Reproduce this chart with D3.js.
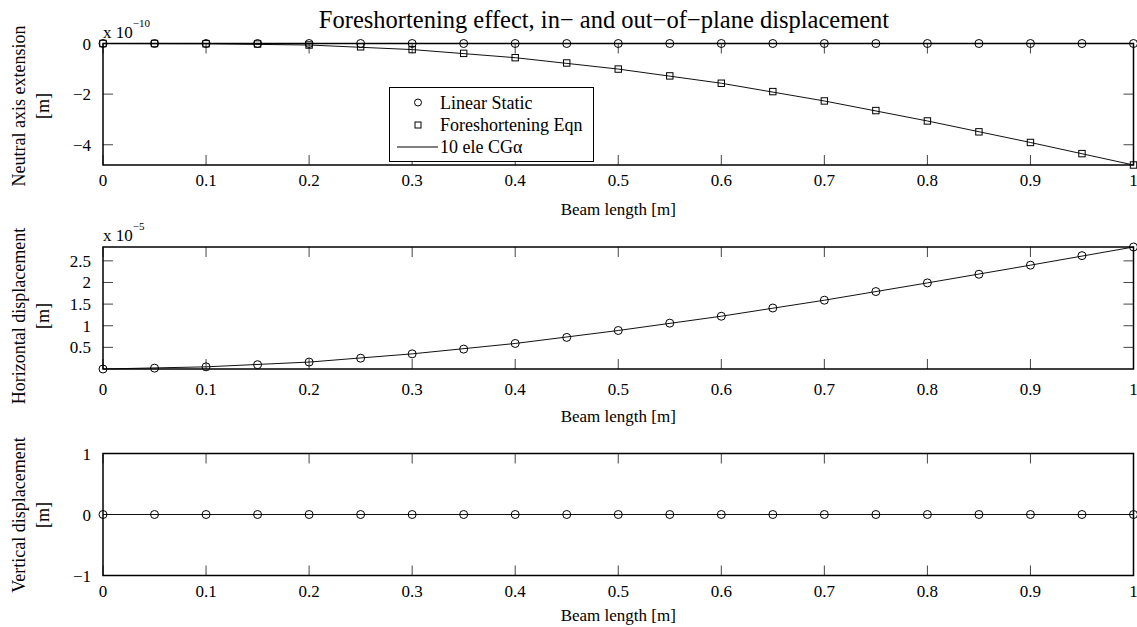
<!DOCTYPE html>
<html>
<head>
<meta charset="utf-8">
<script src="https://cdn.jsdelivr.net/npm/d3@7"></script>
<style>
  body { margin: 0; background: #fff; }
  text { font-family: "Liberation Serif", "Times New Roman", serif; fill: #000; }
</style>
</head>
<body>
<svg id="plot"></svg>
<script>
// marker positions along the beam
var beamX = [0, 0.05, 0.1, 0.15, 0.2, 0.25, 0.3, 0.35, 0.4, 0.45, 0.5,
             0.55, 0.6, 0.65, 0.7, 0.75, 0.8, 0.85, 0.9, 0.95, 1];
// element nodes of the 10 element model
var nodeX = [0, 0.1, 0.2, 0.3, 0.4, 0.5, 0.6, 0.7, 0.8, 0.9, 1];

// neutral axis extension (x 1e-10 m)
var extLinear = [0, 0, 0, 0, 0, 0, 0, 0, 0, 0, 0, 0, 0, 0, 0, 0, 0, 0, 0, 0, 0];
var extForeshort = [0, 0, -0.01, -0.02, -0.06, -0.13, -0.24, -0.39, -0.56, -0.77, -1.01,
                    -1.28, -1.57, -1.9, -2.27, -2.65, -3.06, -3.49, -3.91, -4.35, -4.8];
var extCG = [0, -0.01, -0.06, -0.24, -0.56, -1.01, -1.57, -2.27, -3.06, -3.91, -4.8];

// horizontal displacement (x 1e-5 m)
var horLinear = [0, 0.02, 0.05, 0.1, 0.16, 0.25, 0.35, 0.46, 0.59, 0.73, 0.89,
                 1.06, 1.22, 1.41, 1.59, 1.79, 1.99, 2.19, 2.4, 2.62, 2.82];
var horCG = [0, 0.05, 0.16, 0.35, 0.59, 0.89, 1.22, 1.59, 1.99, 2.4, 2.82];

// vertical displacement (m)
var verLinear = [0, 0, 0, 0, 0, 0, 0, 0, 0, 0, 0, 0, 0, 0, 0, 0, 0, 0, 0, 0, 0];
var verCG = [0, 0, 0, 0, 0, 0, 0, 0, 0, 0, 0];

var xTicks = [0, 0.1, 0.2, 0.3, 0.4, 0.5, 0.6, 0.7, 0.8, 0.9, 1];
var extTicks = [-4, -2, 0];
var horTicks = [0.5, 1, 1.5, 2, 2.5];
var verTicks = [-1, 0, 1];

var titleText = "Foreshortening effect, in\u2212 and out\u2212of\u2212plane displacement";
var legendLabels = ["Linear Static", "Foreshortening Eqn", "10 ele CG\u03b1"];

var W = 1137, H = 627;
var svg = d3.select("#plot").attr("width", W).attr("height", H)
  .attr("font-family", "'Liberation Serif', 'Times New Roman', serif");
svg.append("rect").attr("width", W).attr("height", H).attr("fill", "#fff");

var left = 103, right = 1133.5, tickLen = 10;
var x = d3.scaleLinear().domain([0, 1]).range([left, right]);

svg.append("text")
  .attr("x", 604).attr("y", 28)
  .attr("text-anchor", "middle")
  .style("font-size", "24.5px")
  .text(titleText);

var panels = [
  {top: 43.5, bottom: 165, domain: [-4.8, 0], ticks: extTicks, expo: "\u221210",
   ylab: ["Neutral axis extension", "[m]"], ylabY: 106, tickOff: 21, xlabOff: 50,
   circles: extLinear, squares: extForeshort, line: extCG, fmt: d3.format("d")},
  {top: 247, bottom: 369, domain: [0, 2.82], ticks: horTicks, expo: "\u22125",
   ylab: ["Horizontal displacement", "[m]"], ylabY: 316, tickOff: 26, xlabOff: 53,
   circles: horLinear, squares: null, line: horCG, fmt: function(d) { return String(d); }},
  {top: 453.5, bottom: 575.5, domain: [-1, 1], ticks: verTicks, expo: null,
   ylab: ["Vertical displacement", "[m]"], ylabY: 515, tickOff: 21, xlabOff: 45,
   circles: verLinear, squares: null, line: verCG, fmt: d3.format("d")}
];

panels.forEach(function(p, i) {
  var y = d3.scaleLinear().domain(p.domain).range([p.bottom, p.top]);
  var g = svg.append("g");

  // ticks (inward, mirrored)
  var tk = g.append("g").attr("stroke", "#444").attr("stroke-width", 1);
  xTicks.forEach(function(t) {
    tk.append("line").attr("x1", x(t)).attr("x2", x(t)).attr("y1", p.bottom).attr("y2", p.bottom - tickLen);
    tk.append("line").attr("x1", x(t)).attr("x2", x(t)).attr("y1", p.top).attr("y2", p.top + tickLen);
  });
  p.ticks.forEach(function(t) {
    tk.append("line").attr("x1", left).attr("x2", left + tickLen).attr("y1", y(t)).attr("y2", y(t));
    tk.append("line").attr("x1", right).attr("x2", right - tickLen).attr("y1", y(t)).attr("y2", y(t));
  });

  // tick labels
  g.selectAll(".xl").data(xTicks).enter().append("text")
    .attr("x", function(d) { return x(d); })
    .attr("y", p.bottom + p.tickOff)
    .attr("text-anchor", "middle")
    .style("font-size", "17px")
    .text(function(d) { return d3.format("")(d); });
  g.selectAll(".yl").data(p.ticks).enter().append("text")
    .attr("x", left - 12)
    .attr("y", function(d) { return y(d) + 6; })
    .attr("text-anchor", "end")
    .style("font-size", "17px")
    .text(function(d) { return p.fmt(d).replace("-", "\u2212"); });

  // axis labels
  g.append("text")
    .attr("x", (left + right) / 2).attr("y", p.bottom + p.xlabOff)
    .attr("text-anchor", "middle")
    .style("font-size", "17px")
    .text("Beam length [m]");
  p.ylab.forEach(function(s, j) {
    g.append("text")
      .attr("transform", "translate(" + (25 + j * 24) + "," + p.ylabY + ") rotate(-90)")
      .attr("text-anchor", "middle")
      .style("font-size", "18px")
      .text(s);
  });

  if (p.expo) {
    var e = g.append("text").attr("x", left).attr("y", p.top - 6).style("font-size", "17px");
    e.append("tspan").text("x 10");
    e.append("tspan").attr("dy", -11).style("font-size", "11px").text(p.expo);
  }

  // data line
  g.append("path")
    .datum(nodeX.map(function(d, k) { return [d, p.line[k]]; }))
    .attr("fill", "none").attr("stroke", "#111").attr("stroke-width", 1)
    .attr("d", d3.line().x(function(d) { return x(d[0]); }).y(function(d) { return y(d[1]); }));

  // box
  g.append("rect")
    .attr("x", left).attr("y", p.top)
    .attr("width", right - left).attr("height", p.bottom - p.top)
    .attr("fill", "none").attr("stroke", "#000").attr("stroke-width", 1.5);

  // markers
  g.selectAll(".c").data(p.circles).enter().append("circle")
    .attr("cx", function(d, k) { return x(beamX[k]); })
    .attr("cy", function(d) { return y(d); })
    .attr("r", 4)
    .attr("fill", "none").attr("stroke", "#000").attr("stroke-width", 1);
  if (p.squares) {
    g.selectAll(".s").data(p.squares).enter().append("rect")
      .attr("x", function(d, k) { return x(beamX[k]) - 3.2; })
      .attr("y", function(d) { return y(d) - 3.2; })
      .attr("width", 6.4).attr("height", 6.4)
      .attr("fill", "none").attr("stroke", "#000").attr("stroke-width", 1);
  }

  // legend on first panel
  if (i === 0) {
    var lg = svg.append("g");
    lg.append("rect").attr("x", 389.5).attr("y", 87.5).attr("width", 204).attr("height", 74)
      .attr("fill", "#fff").attr("stroke", "#000").attr("stroke-width", 1);
    var rows = [102.5, 125, 147];
    lg.append("circle").attr("cx", 418).attr("cy", rows[0]).attr("r", 3.5)
      .attr("fill", "none").attr("stroke", "#000");
    lg.append("rect").attr("x", 415).attr("y", rows[1] - 3).attr("width", 6).attr("height", 6)
      .attr("fill", "none").attr("stroke", "#000");
    lg.append("line").attr("x1", 397).attr("x2", 438).attr("y1", rows[2]).attr("y2", rows[2])
      .attr("stroke", "#000");
    legendLabels.forEach(function(s, j) {
      lg.append("text").attr("x", 440).attr("y", rows[j] + 6)
        .style("font-size", "18px").text(s);
    });
  }
});
</script>
</body>
</html>
